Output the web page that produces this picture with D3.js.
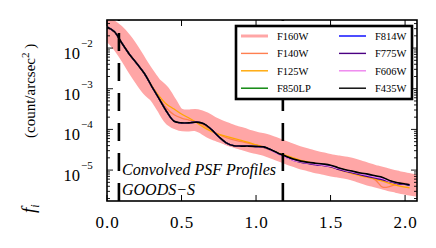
<!DOCTYPE html>
<html><head><meta charset="utf-8">
<script src="https://cdn.jsdelivr.net/npm/d3@7"></script>
<style>body{margin:0;background:#fff}svg{display:block}text{font-family:'Liberation Serif','Times New Roman','DejaVu Serif',serif}</style>
</head><body>
<svg id="c" width="436" height="248"></svg>
<script>
// ---- data ----
const radius = [0,0.05,0.1,0.15,0.2,0.25,0.3,0.35,0.4,0.45,0.5,0.55,0.6,0.65,0.7,0.75,0.8,0.85,0.9,0.95,1.0,1.05,1.1,1.15,1.2,1.25,1.3,1.35,1.4,1.45,1.5,1.55,1.6,1.65,1.7,1.75,1.8,1.85,1.9,1.95,2.0,2.03];
// log10 of f_i (count/arcsec^2)
const F160W = [-1.52,-1.66,-1.86,-2.12,-2.42,-2.70,-2.95,-3.12,-3.40,-3.68,-3.77,-3.78,-3.77,-3.84,-3.95,-4.03,-4.10,-4.17,-4.22,-4.28,-4.33,-4.37,-4.43,-4.50,-4.57,-4.64,-4.70,-4.75,-4.80,-4.84,-4.88,-4.91,-4.94,-4.98,-5.04,-5.10,-5.15,-5.20,-5.25,-5.29,-5.33,-5.35];
const F140W = [-1.48,-1.61,-1.88,-2.14,-2.38,-2.63,-2.93,-3.22,-3.48,-3.64,-3.72,-3.77,-3.82,-3.90,-4.02,-4.12,-4.20,-4.26,-4.30,-4.34,-4.38,-4.43,-4.51,-4.59,-4.65,-4.72,-4.77,-4.81,-4.84,-4.87,-4.91,-4.96,-5.02,-5.06,-5.11,-5.16,-5.24,-5.42,-5.40,-5.34,-5.33,-5.35];
const F125W = [-1.48,-1.60,-1.88,-2.15,-2.38,-2.62,-2.92,-3.18,-3.38,-3.50,-3.62,-3.72,-3.83,-3.95,-4.05,-4.12,-4.17,-4.22,-4.27,-4.32,-4.38,-4.44,-4.52,-4.58,-4.64,-4.70,-4.76,-4.80,-4.84,-4.87,-4.92,-4.98,-5.04,-5.09,-5.14,-5.18,-5.22,-5.27,-5.33,-5.38,-5.42,-5.44];
const F850LP = [-1.48,-1.60,-1.88,-2.15,-2.38,-2.62,-2.94,-3.25,-3.56,-3.80,-3.84,-3.84,-3.82,-3.86,-4.00,-4.18,-4.33,-4.40,-4.41,-4.41,-4.42,-4.43,-4.50,-4.59,-4.66,-4.74,-4.79,-4.82,-4.84,-4.86,-4.89,-4.95,-5.00,-5.04,-5.08,-5.11,-5.15,-5.19,-5.27,-5.32,-5.35,-5.37];
const F814W = [-1.48,-1.60,-1.88,-2.15,-2.38,-2.62,-2.94,-3.25,-3.56,-3.80,-3.84,-3.84,-3.82,-3.86,-4.00,-4.18,-4.33,-4.40,-4.41,-4.41,-4.42,-4.43,-4.50,-4.59,-4.67,-4.75,-4.80,-4.83,-4.86,-4.88,-4.91,-4.97,-5.02,-5.06,-5.10,-5.14,-5.18,-5.22,-5.28,-5.33,-5.35,-5.37];
const F775W = [-1.48,-1.60,-1.88,-2.15,-2.38,-2.62,-2.94,-3.25,-3.56,-3.80,-3.84,-3.84,-3.82,-3.86,-4.00,-4.18,-4.33,-4.40,-4.41,-4.41,-4.42,-4.44,-4.51,-4.60,-4.68,-4.76,-4.81,-4.84,-4.87,-4.89,-4.92,-4.98,-5.03,-5.07,-5.12,-5.16,-5.20,-5.24,-5.29,-5.33,-5.35,-5.37];
const F606W = [-1.48,-1.60,-1.88,-2.15,-2.38,-2.62,-2.94,-3.25,-3.56,-3.80,-3.84,-3.84,-3.82,-3.86,-4.00,-4.18,-4.33,-4.40,-4.41,-4.41,-4.42,-4.44,-4.52,-4.61,-4.69,-4.76,-4.80,-4.83,-4.85,-4.88,-4.91,-4.96,-5.01,-5.05,-5.09,-5.13,-5.17,-5.21,-5.28,-5.32,-5.34,-5.36];
const F435W = [-1.48,-1.60,-1.88,-2.15,-2.38,-2.62,-2.94,-3.25,-3.56,-3.80,-3.84,-3.84,-3.82,-3.86,-4.00,-4.18,-4.33,-4.40,-4.41,-4.41,-4.42,-4.43,-4.50,-4.59,-4.66,-4.73,-4.78,-4.81,-4.83,-4.85,-4.88,-4.94,-4.99,-5.03,-5.07,-5.10,-5.14,-5.18,-5.26,-5.31,-5.34,-5.36];
const seriesNames = ["F160W","F140W","F125W","F850LP","F814W","F775W","F606W","F435W"];
const seriesColors = ["#ffa6a6","#ff7f50","#ffa500","#008000","#0000ff","#4b0082","#ee82ee","#000000"];
const dashedRadii = [0.08, 1.18];
const xTicks = [0.0, 0.5, 1.0, 1.5, 2.0];
const xTickLabels = ["0.0","0.5","1.0","1.5","2.0"];
const yTickExps = [-2,-3,-4,-5];
const annotations = ["Convolved PSF Profiles","GOODS\u2212S"];

const seriesData = {F160W,F140W,F125W,F850LP,F814W,F775W,F606W,F435W};

// ---- layout ----
const L=107, R=417, T=20, B=201;
const svg = d3.select("#c");
const x = d3.scaleLinear().domain([0, 2.08]).range([L, R]);
const y = d3.scaleLog().domain([Math.pow(10,-5.76), Math.pow(10,-1.31)]).range([B, T]);

svg.append("clipPath").attr("id","clip").append("rect")
  .attr("x",L).attr("y",T).attr("width",R-L).attr("height",B-T);
const plot = svg.append("g").attr("clip-path","url(#clip)");

const line = d3.line().x(d=>x(d[0])).y(d=>y(Math.pow(10,d[1]))).curve(d3.curveCatmullRom);

seriesNames.forEach((n,i)=>{
  const pts = radius.map((r,k)=>[r, seriesData[n][k]]);
  plot.append("path").attr("d", line(pts)).attr("fill","none")
    .attr("stroke", seriesColors[i])
    .attr("stroke-width", i===0 ? 22 : (i===7 ? 1.6 : 1.3))
    .attr("stroke-linecap", i===0 ? "square" : "butt")
    .attr("stroke-linejoin","round");
});

// dashed vertical lines
dashedRadii.forEach(r=>{
  plot.append("line").attr("x1",x(r)).attr("x2",x(r)).attr("y1",B).attr("y2",T)
    .attr("stroke","#000").attr("stroke-width",2.6).attr("stroke-dasharray","18,12");
});

// annotations
svg.append("text").attr("x",122).attr("y",175).text(annotations[0])
  .attr("font-style","italic").attr("font-size",16);
svg.append("text").attr("x",122).attr("y",195).text(annotations[1])
  .attr("font-style","italic").attr("font-size",16);

// axes frame
svg.append("rect").attr("x",L).attr("y",T).attr("width",R-L).attr("height",B-T)
  .attr("fill","none").attr("stroke","#000").attr("stroke-width",1.6);

// x ticks (inward, bottom and top)
const ax = svg.append("g");
xTicks.forEach((t,i)=>{
  ax.append("line").attr("x1",x(t)).attr("x2",x(t)).attr("y1",B).attr("y2",B-6).attr("stroke","#000").attr("stroke-width",1);
  ax.append("line").attr("x1",x(t)).attr("x2",x(t)).attr("y1",T).attr("y2",T+6).attr("stroke","#000").attr("stroke-width",1);
  ax.append("text").attr("x",x(t)+0.5).attr("y",228).attr("text-anchor","middle")
    .attr("font-size",17).attr("letter-spacing","1px")
    .text(xTickLabels[i]);
});

// y ticks: major and minor on left and right
const [d0,d1] = y.domain();
for (let e=-6; e<=-1; e++){
  for (let m=1; m<=9; m++){
    const v = m*Math.pow(10,e);
    if (v<d0 || v>d1) continue;
    const len = m===1 ? 6 : 3;
    const yy = y(v);
    ax.append("line").attr("x1",L).attr("x2",L+len).attr("y1",yy).attr("y2",yy).attr("stroke","#000").attr("stroke-width",0.9);
    ax.append("line").attr("x1",R).attr("x2",R-len).attr("y1",yy).attr("y2",yy).attr("stroke","#000").attr("stroke-width",0.9);
  }
}
yTickExps.forEach(e=>{
  const yy = y(Math.pow(10,e));
  ax.append("text").attr("x",80).attr("y",yy+11).attr("text-anchor","end")
    .attr("font-size",16.5).text("10");
  ax.append("text").attr("x",81).attr("y",yy-1)
    .attr("font-size",11).text("\u2212"+Math.abs(e));
});

// y label
svg.append("text").attr("transform","translate(35,213) rotate(-90)")
  .attr("font-size",19).attr("font-style","italic")
  .call(t=>{ t.append("tspan").text("f"); t.append("tspan").attr("font-size",12).attr("dy",4).text("i"); });
svg.append("text").attr("transform","translate(35,138) rotate(-90)")
  .attr("font-size",15)
  .call(t=>{
    t.append("tspan").text("(count/arcsec");
    t.append("tspan").attr("font-size",11).attr("dy",-6).text("2");
    t.append("tspan").attr("dy",6).text(" )");
  });

// legend
const lg = svg.append("g");
lg.append("rect").attr("x",236).attr("y",26).attr("width",176).attr("height",73)
  .attr("fill","#fff").attr("stroke","#000").attr("stroke-width",2.6);
seriesNames.forEach((n,i)=>{
  const col = Math.floor(i/4), row = i%4;
  const lx = col===0 ? 241 : 339;
  const ly = 36 + row*17.4;
  lg.append("line").attr("x1",lx).attr("x2",lx+27).attr("y1",ly).attr("y2",ly)
    .attr("stroke",seriesColors[i]).attr("stroke-width", i===0 ? 3 : 1.4);
  lg.append("text").attr("x",lx+36).attr("y",ly+4)
    .attr("font-size",10.5).text(n);
});
</script>
</body></html>
